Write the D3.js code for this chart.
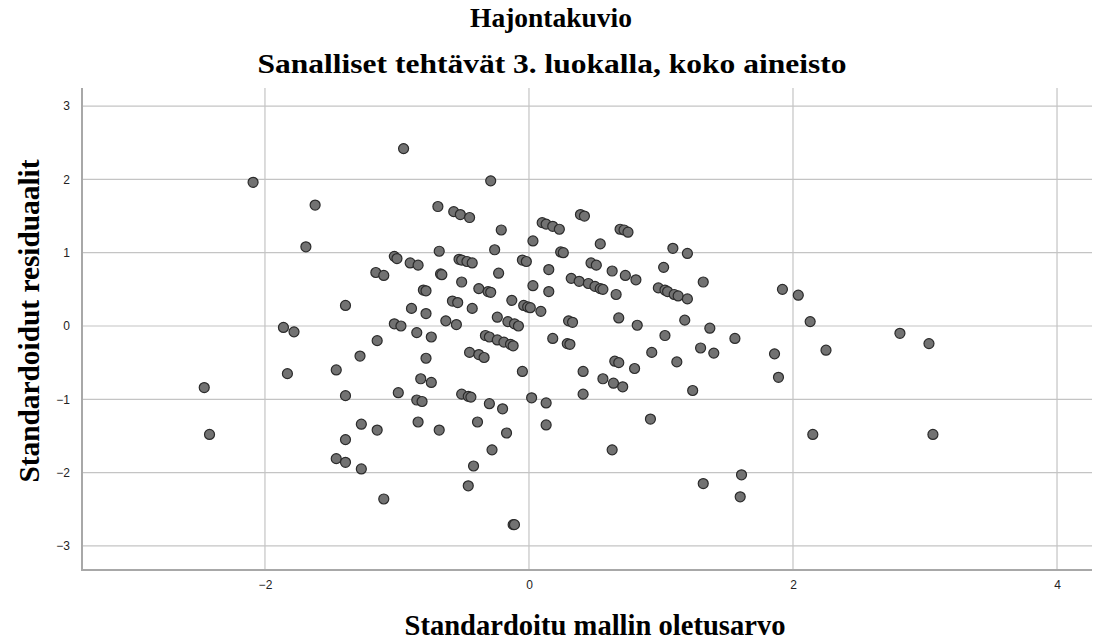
<!DOCTYPE html>
<html>
<head>
<meta charset="utf-8">
<script src="https://cdn.jsdelivr.net/npm/d3@7"></script>
<style>
  body { margin: 0; background: #fff; }
  .title { font-family: "Liberation Serif", "Times New Roman", serif; font-weight: bold; fill: #000; }
  .tick text { font-family: "Liberation Sans", "DejaVu Sans", sans-serif; font-size: 12px; fill: #222; }
</style>
</head>
<body>
<div id="chart"></div>
<script>
const width = 1102
const height = 643

// tick values
const xTicks = [-2, 0, 2, 4]
const yTicks = [-3, -2, -1, 0, 1, 2, 3]

// standardized predicted value (x) and standardized residual (y)
const predicted = [
  -2.09, -1.86, -1.78, -1.83, -2.46, -2.42,
  -0.95, -1.62, -1.69, -0.29, -0.69, -0.57, -0.52, -0.45, -0.21, 0.03, -0.68, -0.26,
  -1.02, -1.00, -0.90, -0.84, -0.53, -0.51, -0.47, -0.43, -0.05, -0.02, -1.16, -1.10,
  -0.67, -0.66, -0.23, -0.51, 0.03, -0.38, -0.31, -0.29, -0.80, -0.78, -1.39, -0.89,
  -0.58, -0.54, -0.43, -0.13, -0.78, -0.24, -0.04, -0.01, 0.01, 0.09, -0.63, -0.16,
  -0.11, -0.08, -0.55, -1.02, -0.97,
  -0.85, -0.74, -1.15, -1.28, -1.46, -1.39, -0.99, -0.85, -0.81, -0.78, -0.82, -0.74,
  -0.33, -0.30, -0.24, -0.19, -0.14, -0.12, -0.45, -0.38, -0.34, -0.05, -0.51, -0.46,
  -0.44, -0.30, -0.20, 0.02, -1.27, -1.15, -0.84, -0.68, -0.39, -0.17, -1.39, -0.28,
  -1.46, -1.39, -1.27, -0.42, -0.46, -1.10, -0.12, -0.11,
  0.39, 0.42, 0.10, 0.13, 0.18, 0.23, 0.69, 0.72, 0.75, 0.54, 1.09, 1.20, 0.24, 0.26,
  0.47, 0.51, 0.15, 0.63, 0.73, 0.81, 1.02, 1.32, 0.32, 0.38, 0.45, 0.50, 0.54, 0.56,
  0.98, 1.03, 1.05, 1.10, 1.13, 1.20, 0.15, 0.66, 1.92, 0.30, 0.33, 0.68, 0.82, 1.18, 1.37,
  1.56, 1.86, 1.89, 0.18, 0.29, 0.31, 1.03, 1.30, 1.40, 0.93, 1.12, 0.41, 0.65, 0.68,
  0.80, 0.56, 0.64, 0.71, 0.41, 0.13, 0.13, 1.24, 0.92, 0.63, 1.32, 1.61, 1.60,
  2.04, 2.13, 2.81, 2.25, 3.03, 2.15, 3.06
]
const residuals = [
  1.96, -0.02, -0.08, -0.65, -0.84, -1.48,
  2.42, 1.65, 1.08, 1.98, 1.63, 1.56, 1.52, 1.48, 1.31, 1.16, 1.02, 1.04,
  0.95, 0.92, 0.86, 0.83, 0.91, 0.90, 0.88, 0.86, 0.90, 0.88, 0.73, 0.69,
  0.71, 0.70, 0.72, 0.60, 0.55, 0.51, 0.47, 0.46, 0.49, 0.48, 0.28, 0.24,
  0.34, 0.32, 0.24, 0.35, 0.17, 0.12, 0.28, 0.26, 0.25, 0.20, 0.07, 0.06,
  0.03, 0.00, 0.02, 0.03, 0.00,
  -0.09, -0.15, -0.20, -0.41, -0.60, -0.95, -0.91, -1.01, -1.03, -0.44, -0.72, -0.77,
  -0.13, -0.15, -0.19, -0.22, -0.25, -0.27, -0.36, -0.39, -0.43, -0.62, -0.93, -0.96,
  -0.97, -1.06, -1.13, -0.98, -1.34, -1.42, -1.31, -1.42, -1.31, -1.46, -1.55, -1.69,
  -1.81, -1.86, -1.95, -1.91, -2.18, -2.36, -2.71, -2.71,
  1.52, 1.50, 1.41, 1.39, 1.36, 1.32, 1.32, 1.31, 1.28, 1.12, 1.06, 0.99, 1.01, 1.00,
  0.86, 0.83, 0.77, 0.75, 0.69, 0.63, 0.80, 0.60, 0.65, 0.61, 0.58, 0.54, 0.51, 0.50,
  0.52, 0.49, 0.47, 0.43, 0.41, 0.37, 0.47, 0.43, 0.50, 0.07, 0.05, 0.11, 0.01, 0.08, -0.03,
  -0.17, -0.38, -0.70, -0.17, -0.24, -0.25, -0.13, -0.30, -0.37, -0.36, -0.49, -0.62, -0.48, -0.50,
  -0.58, -0.72, -0.78, -0.83, -0.93, -1.05, -1.35, -0.88, -1.27, -1.69, -2.15, -2.03, -2.33,
  0.42, 0.06, -0.10, -0.33, -0.24, -1.48, -1.48
]

const svg = d3.select('#chart').append('svg')
    .attr('width', width)
    .attr('height', height)

const plot = { left: 82, right: 1092, top: 88, bottom: 570 }

const xScale = d3.scaleLinear()
    .domain([-3.386, 4.265])
    .range([plot.left, plot.right])

const yScale = d3.scaleLinear()
    .domain([-3.329, 3.247])
    .range([plot.bottom, plot.top])

/*
 * grid lines
 */
svg.append('g')
    .selectAll('line')
    .data(xTicks)
    .join('line')
    .attr('x1', d => xScale(d)).attr('x2', d => xScale(d))
    .attr('y1', plot.top).attr('y2', plot.bottom)
    .style('stroke', '#c4c4c4')
    .style('stroke-width', 1.2)

svg.append('g')
    .selectAll('line')
    .data(yTicks)
    .join('line')
    .attr('x1', plot.left).attr('x2', plot.right)
    .attr('y1', d => yScale(d)).attr('y2', d => yScale(d))
    .style('stroke', '#c4c4c4')
    .style('stroke-width', 1.2)

/*
 * axes
 */
const fmt = d3.format('d')

const xAxis = d3.axisBottom(xScale).tickValues(xTicks).tickFormat(fmt).tickSize(0).tickPadding(10)
svg.append('g')
    .attr('class', 'x axis')
    .attr('transform', `translate(0, ${plot.bottom})`)
    .call(xAxis)
    .call(g => g.select('.domain').remove())

const yAxis = d3.axisLeft(yScale).tickValues(yTicks).tickFormat(fmt).tickSize(0).tickPadding(12)
svg.append('g')
    .attr('class', 'y axis')
    .attr('transform', `translate(${plot.left}, 0)`)
    .call(yAxis)
    .call(g => g.select('.domain').remove())

svg.append('line')
    .attr('x1', plot.left).attr('x2', plot.left)
    .attr('y1', plot.top).attr('y2', plot.bottom + 1)
    .style('stroke', '#a8a8a8').style('stroke-width', 2)

svg.append('line')
    .attr('x1', plot.left - 1).attr('x2', plot.right)
    .attr('y1', plot.bottom).attr('y2', plot.bottom)
    .style('stroke', '#a8a8a8').style('stroke-width', 2)

/*
 * points
 */
const points = predicted.map((x, i) => [x, residuals[i]])

svg.append('g')
    .selectAll('circle')
    .data(points)
    .join('circle')
    .attr('cx', d => xScale(d[0]))
    .attr('cy', d => yScale(d[1]))
    .attr('r', 5)
    .style('fill', '#727272')
    .style('stroke', '#2b2b2b')
    .style('stroke-width', 1.2)

/*
 * titles
 */
svg.append('text')
    .attr('class', 'title')
    .attr('x', 551).attr('y', 27)
    .attr('text-anchor', 'middle')
    .attr('font-size', 28)
    .attr('textLength', 162).attr('lengthAdjust', 'spacingAndGlyphs')
    .text('Hajontakuvio')

svg.append('text')
    .attr('class', 'title')
    .attr('x', 552).attr('y', 73)
    .attr('text-anchor', 'middle')
    .attr('font-size', 28)
    .attr('textLength', 589).attr('lengthAdjust', 'spacingAndGlyphs')
    .text('Sanalliset tehtävät 3. luokalla, koko aineisto')

svg.append('text')
    .attr('class', 'title')
    .attr('x', 595).attr('y', 635)
    .attr('text-anchor', 'middle')
    .attr('font-size', 29)
    .attr('textLength', 381).attr('lengthAdjust', 'spacingAndGlyphs')
    .text('Standardoitu mallin oletusarvo')

svg.append('text')
    .attr('class', 'title')
    .attr('transform', 'translate(39, 321) rotate(-90)')
    .attr('text-anchor', 'middle')
    .attr('font-size', 29)
    .attr('textLength', 323).attr('lengthAdjust', 'spacingAndGlyphs')
    .text('Standardoidut residuaalit')
</script>
</body>
</html>
